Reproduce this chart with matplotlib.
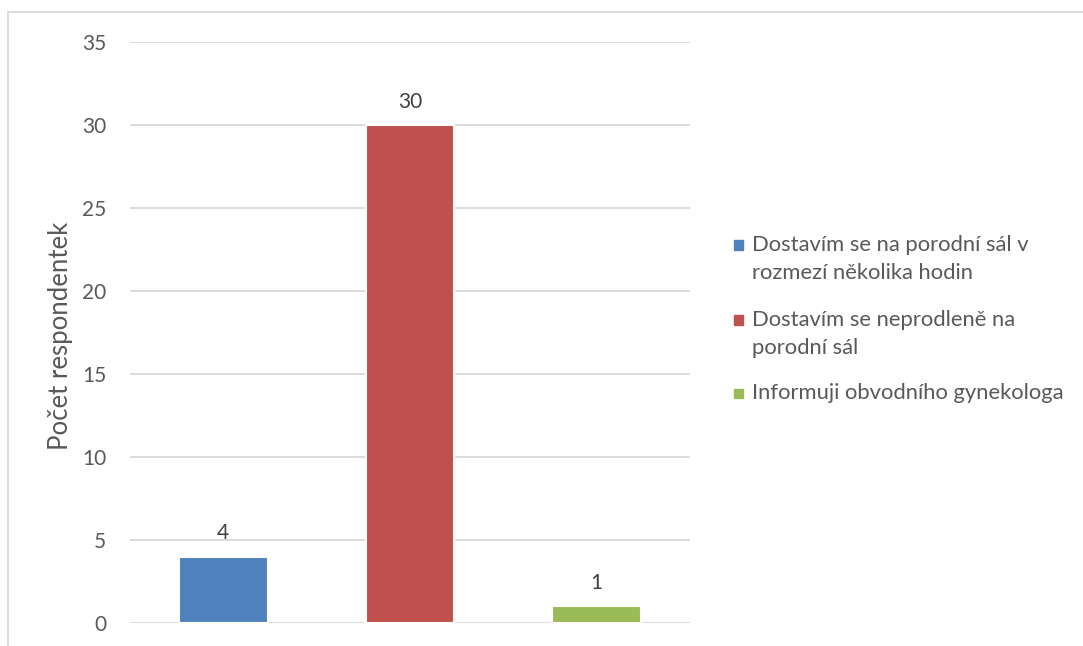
import matplotlib
matplotlib.use("Agg")
import matplotlib.pyplot as plt
from matplotlib.lines import Line2D
from matplotlib.patches import Rectangle

categories = ["Dostavím se na porodní sál v\nrozmezí několika hodin",
              "Dostavím se neprodleně na\nporodní sál",
              "Informuji obvodního gynekologa"]
values = [4, 30, 1]
colors = ["#4F81BD", "#C0504D", "#9BBB59"]
yticks = [0, 5, 10, 15, 20, 25, 30, 35]
ylabel = "Počet respondentek"

plt.rcParams['font.family'] = ['Lato', 'DejaVu Sans']
txt = "#595959"
W, H = 1083, 646

fig = plt.figure(figsize=(W / 100, H / 100), dpi=100)
ax = fig.add_axes([130 / W, 1 - 623 / H, 560 / W, 581 / H])

x = list(range(len(values)))
ax.bar(x, values, width=0.476, color=colors, edgecolor="white", linewidth=1.5, zorder=3)
for xi, v in zip(x, values):
    ax.annotate(str(v), (xi, v), xytext=(0, 12.5), textcoords="offset points",
                ha="center", va="baseline", fontsize=15, color="#404040")

ax.set_xlim(-0.5, len(values) - 0.5)
ax.set_ylim(0, 35)
ax.set_yticks(yticks)
ax.set_xticks([])
ax.grid(axis="y", color="#D9D9D9", linewidth=1.3, zorder=0)
for s in ax.spines.values():
    s.set_visible(False)
ax.tick_params(axis="y", length=0, pad=17, labelsize=15, labelcolor=txt)
ax.set_ylabel(ylabel, fontsize=18.5, color=txt)
ax.yaxis.set_label_coords((73 - 130) / 560, 0.494)

# legend drawn entry by entry (square key aligned to the first text line)
leg_fs = 15.8
line_gap = 28
entry_baselines = [251, 326, 399]
for lab, col, yb in zip(categories, colors, entry_baselines):
    fig.add_artist(Rectangle((734 / W, 1 - (yb - 1.5) / H), 9 / W, 9 / H,
                             transform=fig.transFigure, color=col))
    for k, line in enumerate(lab.split("\n")):
        fig.text(752 / W, 1 - (yb + k * line_gap) / H, line, fontsize=leg_fs,
                 color=txt, ha="left", va="baseline")

# outer border (top and left visible)
fig.add_artist(Line2D([8 / W, 1], [1 - 12 / H, 1 - 12 / H], color="#D9D9D9", linewidth=1.3))
fig.add_artist(Line2D([8 / W, 8 / W], [0, 1 - 12 / H], color="#D9D9D9", linewidth=1.3))

fig.savefig("out.png", dpi=100)
